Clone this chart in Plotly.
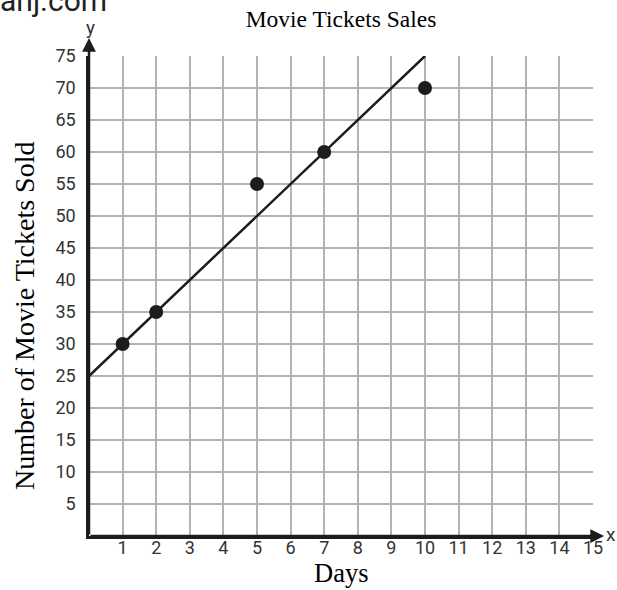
import plotly.graph_objects as go

# Data
days = [1, 2, 5, 7, 10]
tickets = [30, 35, 55, 60, 70]
fit_x = [0, 10]
fit_y = [25, 75]
x_ticks = list(range(1, 16))
y_ticks = list(range(5, 80, 5))

SERIF = "Liberation Serif, Times New Roman, serif"
SANS = "Roboto, Arial, sans-serif"
INK = "#1c1c1c"

fig = go.Figure()
fig.add_trace(go.Scatter(x=fit_x, y=fit_y, mode="lines",
                         line=dict(color=INK, width=2.5), cliponaxis=False,
                         hoverinfo="skip", showlegend=False))
fig.add_trace(go.Scatter(x=days, y=tickets, mode="markers",
                         marker=dict(color=INK, size=14), cliponaxis=False,
                         showlegend=False))

W, H = 617, 590
L, R, T, B = 89, 24, 56, 54
pw, ph = W - L - R, H - T - B

def px_x(p):
    return (p - L) / pw

def px_y(p):
    return (H - B - p) / ph

fig.update_layout(
    width=W, height=H, autosize=False,
    margin=dict(l=L, r=R, t=T, b=B),
    paper_bgcolor="white", plot_bgcolor="white",
    xaxis=dict(range=[0, 15], tickvals=x_ticks, ticktext=[str(v) for v in x_ticks],
               showgrid=True, gridcolor="#b3b3b3", gridwidth=1.5,
               showline=True, linecolor=INK, linewidth=2.5, zeroline=False,
               ticks="", ticklabelstandoff=-6,
               tickfont=dict(family=SANS, size=18, color="#333333")),
    yaxis=dict(range=[0, 75], tickvals=y_ticks, ticktext=[str(v) for v in y_ticks],
               showgrid=True, gridcolor="#b3b3b3", gridwidth=1.5,
               showline=True, linecolor=INK, linewidth=2.5, zeroline=False,
               ticks="", ticklabelstandoff=7,
               tickfont=dict(family=SANS, size=18, color="#333333")),
    title=dict(text="Movie Tickets Sales", x=0.5, xanchor="center",
               xref="paper", y=1 - 19 / H, yanchor="middle",
               font=dict(family=SERIF, size=23.5, color="black")),
)

ann = []
# axis arrows
ann.append(dict(x=15.33, y=0, ax=0, ay=0, xref="x", yref="y", axref="x", ayref="y",
                text="", showarrow=True, arrowhead=2, arrowsize=1.1,
                arrowwidth=2.5, arrowcolor=INK))
ann.append(dict(x=0, y=77.8, ax=0, ay=0, xref="x", yref="y", axref="x", ayref="y",
                text="", showarrow=True, arrowhead=2, arrowsize=1.1,
                arrowwidth=2.5, arrowcolor=INK))
ann.append(dict(x=px_x(611), y=px_y(534), xref="paper", yref="paper", text="x",
                xanchor="center", yanchor="middle", showarrow=False,
                font=dict(family=SANS, size=19, color="#333333")))
ann.append(dict(x=px_x(90), y=px_y(27), xref="paper", yref="paper", text="y",
                xanchor="center", yanchor="middle", showarrow=False,
                font=dict(family=SANS, size=19, color="#333333")))
# axis titles
ann.append(dict(x=px_x(24), y=px_y(316), xref="paper", yref="paper",
                text="Number of Movie Tickets Sold", textangle=-90, showarrow=False,
                xanchor="center", yanchor="middle",
                font=dict(family=SERIF, size=28, color="black")))
ann.append(dict(x=0.5, y=px_y(573), xref="paper", yref="paper", text="Days",
                xanchor="center", yanchor="middle", showarrow=False,
                font=dict(family=SERIF, size=26.5, color="black")))
# watermark (clipped at top)
ann.append(dict(x=px_x(-2), y=px_y(20), xref="paper", yref="paper", text="anj.com",
                xanchor="left", yanchor="bottom", showarrow=False,
                font=dict(family=SANS, size=30, color="#222222")))
fig.update_layout(annotations=ann)

fig.write_html("out.html", config={"displayModeBar": False},
               post_script="document.body.style.margin='0px';")
